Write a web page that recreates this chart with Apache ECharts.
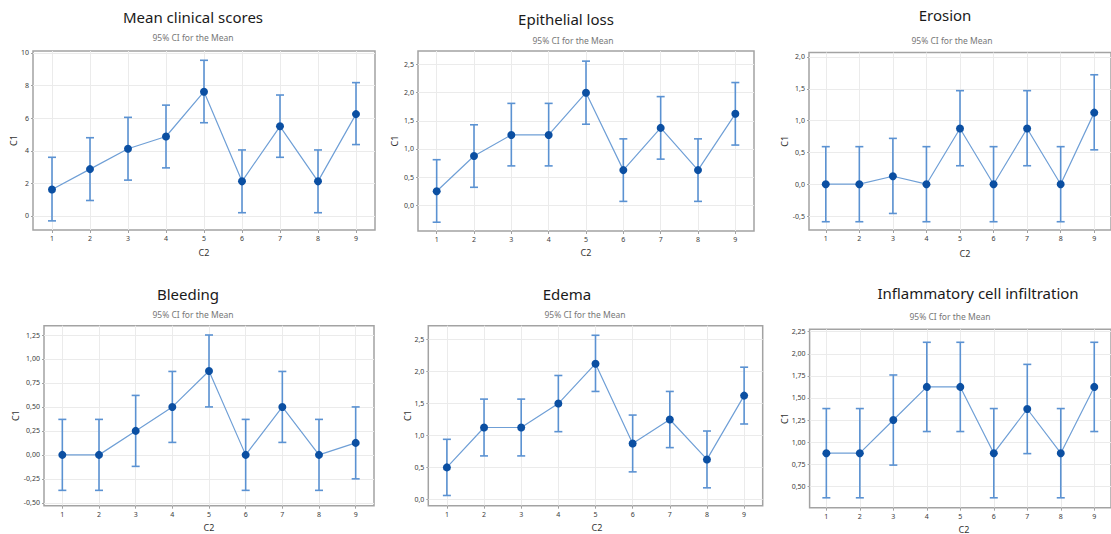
<!DOCTYPE html>
<html>
<head>
<meta charset="utf-8">
<script src="https://cdn.jsdelivr.net/npm/echarts@6/dist/echarts.min.js"></script>
<style>
html,body{margin:0;padding:0;background:#fff;}
#c{width:1111px;height:534px;}
</style>
</head>
<body>
<div id="c"></div>
<script>
// ---------- DATA ----------
const categories = [1, 2, 3, 4, 5, 6, 7, 8, 9];

const titles = ["Mean clinical scores", "Epithelial loss", "Erosion", "Bleeding", "Edema", "Inflammatory cell infiltration"];
const subtitleText = "95% CI for the Mean";
const xAxisName = "C2";
const yAxisName = "C1";

// Mean clinical scores
const clinicalMean  = [1.625, 2.875, 4.125, 4.875, 7.625, 2.125, 5.5, 2.125, 6.25];
const clinicalLower = [-0.3, 0.95, 2.2, 2.95, 5.72, 0.2, 3.6, 0.2, 4.38];
const clinicalUpper = [3.6, 4.8, 6.05, 6.8, 9.55, 4.05, 7.42, 4.05, 8.18];
const clinicalTicks = [0, 2, 4, 6, 8, 10];
const clinicalTickLabels = ["0", "2", "4", "6", "8", "10"];

// Epithelial loss
const epithelialMean  = [0.25, 0.875, 1.25, 1.25, 2.0, 0.625, 1.375, 0.625, 1.625];
const epithelialLower = [-0.3, 0.32, 0.7, 0.7, 1.44, 0.07, 0.82, 0.07, 1.07];
const epithelialUpper = [0.81, 1.43, 1.81, 1.81, 2.56, 1.18, 1.93, 1.18, 2.18];
const epithelialTicks = [0, 0.5, 1, 1.5, 2, 2.5];
const epithelialTickLabels = ["0,0", "0,5", "1,0", "1,5", "2,0", "2,5"];

// Erosion
const erosionMean  = [0, 0, 0.125, 0, 0.875, 0, 0.875, 0, 1.125];
const erosionLower = [-0.59, -0.59, -0.46, -0.59, 0.29, -0.59, 0.29, -0.59, 0.54];
const erosionUpper = [0.59, 0.59, 0.72, 0.59, 1.47, 0.59, 1.47, 0.59, 1.72];
const erosionTicks = [-0.5, 0, 0.5, 1, 1.5, 2];
const erosionTickLabels = ["-0,5", "0,0", "0,5", "1,0", "1,5", "2,0"];

// Bleeding
const bleedingMean  = [0, 0, 0.25, 0.5, 0.875, 0, 0.5, 0, 0.125];
const bleedingLower = [-0.37, -0.37, -0.12, 0.13, 0.5, -0.37, 0.13, -0.37, -0.25];
const bleedingUpper = [0.37, 0.37, 0.62, 0.87, 1.25, 0.37, 0.87, 0.37, 0.5];
const bleedingTicks = [-0.5, -0.25, 0, 0.25, 0.5, 0.75, 1, 1.25];
const bleedingTickLabels = ["-0,50", "-0,25", "0,00", "0,25", "0,50", "0,75", "1,00", "1,25"];

// Edema
const edemaMean  = [0.5, 1.125, 1.125, 1.5, 2.125, 0.875, 1.25, 0.625, 1.625];
const edemaLower = [0.06, 0.68, 0.68, 1.06, 1.69, 0.43, 0.81, 0.18, 1.18];
const edemaUpper = [0.94, 1.57, 1.57, 1.94, 2.57, 1.32, 1.69, 1.07, 2.07];
const edemaTicks = [0, 0.5, 1, 1.5, 2, 2.5];
const edemaTickLabels = ["0,0", "0,5", "1,0", "1,5", "2,0", "2,5"];

// Inflammatory cell infiltration
const inflamMean  = [0.875, 0.875, 1.25, 1.625, 1.625, 0.875, 1.375, 0.875, 1.625];
const inflamLower = [0.37, 0.37, 0.74, 1.12, 1.12, 0.37, 0.87, 0.37, 1.12];
const inflamUpper = [1.38, 1.38, 1.76, 2.13, 2.13, 1.38, 1.88, 1.38, 2.13];
const inflamTicks = [0.5, 0.75, 1, 1.25, 1.5, 1.75, 2, 2.25];
const inflamTickLabels = ["0,50", "0,75", "1,00", "1,25", "1,50", "1,75", "2,00", "2,25"];

// ---------- LAYOUT (positions / styles only) ----------
const panelLayout = [
  {left: 33,  top: 51,  width: 342, height: 179, ymin: -0.86, ymax: 10.12, tx: 193, ty: 17, sx: 193, sy: 37, c2x: 204, c2y: 252, c1x: 13},
  {left: 418, top: 51,  width: 336, height: 180, ymin: -0.456, ymax: 2.74, tx: 566, ty: 19, sx: 573, sy: 40, c2x: 586, c2y: 252, c1x: 394},
  {left: 809, top: 52.5, width: 312, height: 177.5, ymin: -0.72, ymax: 2.07, tx: 945, ty: 15, sx: 952, sy: 40, c2x: 965, c2y: 253, c1x: 784},
  {left: 44,  top: 325.7, width: 330, height: 180, ymin: -0.53, ymax: 1.347, tx: 188, ty: 294, sx: 193, sy: 314, c2x: 209, c2y: 527, c1x: 15},
  {left: 428.3, top: 325.7, width: 334.4, height: 180, ymin: -0.1, ymax: 2.72, tx: 567, ty: 294, sx: 585, sy: 314, c2x: 597, c2y: 527, c1x: 407},
  {left: 809.6, top: 329.3, width: 307.8, height: 178.4, ymin: 0.258, ymax: 2.277, tx: 978, ty: 293, sx: 950, sy: 316, c2x: 964, c2y: 529, c1x: 784}
];

const panelData = [
  {mean: clinicalMean, lower: clinicalLower, upper: clinicalUpper, ticks: clinicalTicks, labels: clinicalTickLabels},
  {mean: epithelialMean, lower: epithelialLower, upper: epithelialUpper, ticks: epithelialTicks, labels: epithelialTickLabels},
  {mean: erosionMean, lower: erosionLower, upper: erosionUpper, ticks: erosionTicks, labels: erosionTickLabels},
  {mean: bleedingMean, lower: bleedingLower, upper: bleedingUpper, ticks: bleedingTicks, labels: bleedingTickLabels},
  {mean: edemaMean, lower: edemaLower, upper: edemaUpper, ticks: edemaTicks, labels: edemaTickLabels},
  {mean: inflamMean, lower: inflamLower, upper: inflamUpper, ticks: inflamTicks, labels: inflamTickLabels}
];

const FONT = "Noto Sans";
const LINE_COLOR = "#6f9fd6";
const BAR_COLOR = "#5b92d2";
const DOT_COLOR = "#0b4fa2";
const FRAME_COLOR = "#a3a3a3";
const GRID_COLOR = "#ebebeb";
const LABEL_COLOR = "#3a3a3a";

const grids = [], xAxes = [], yAxes = [], series = [], graphics = [];

panelLayout.forEach((L, i) => {
  const D = panelData[i];
  grids.push({
    left: L.left, top: L.top, width: L.width, height: L.height,
    show: true, borderColor: FRAME_COLOR, borderWidth: 1.5, backgroundColor: "#fff",
    containLabel: false
  });
  xAxes.push({
    type: "value", gridIndex: i, min: 0.5, max: 9.5, position: "bottom",
    axisLine: {show: false, onZero: false},
    axisTick: {show: true, length: 3, inside: false, customValues: categories, lineStyle: {color: FRAME_COLOR}},
    axisLabel: {customValues: categories, fontSize: 7, color: LABEL_COLOR, fontFamily: FONT, margin: 5},
    splitLine: {show: true, lineStyle: {color: GRID_COLOR, width: 1}}
  });
  yAxes.push({
    type: "value", gridIndex: i, min: L.ymin, max: L.ymax, position: "left",
    axisLine: {show: false, onZero: false},
    axisTick: {show: true, length: 2, customValues: D.ticks, lineStyle: {color: FRAME_COLOR}},
    axisLabel: {
      customValues: D.ticks, fontSize: 7, color: LABEL_COLOR, fontFamily: FONT, margin: 4,
      formatter: (v) => {
        const k = D.ticks.findIndex(t => Math.abs(t - v) < 1e-9);
        return k >= 0 ? D.labels[k] : "";
      }
    },
    splitLine: {show: true, lineStyle: {color: GRID_COLOR, width: 1}}
  });
  series.push({
    type: "custom", xAxisIndex: i, yAxisIndex: i, z: 2,
    data: categories.map((c, k) => [c, D.lower[k], D.upper[k]]),
    encode: {x: 0, y: [1, 2]},
    renderItem: (params, api) => {
      const x = api.value(0);
      const lo = api.coord([x, api.value(1)]);
      const hi = api.coord([x, api.value(2)]);
      const cw = 4;
      const st = {stroke: BAR_COLOR, lineWidth: 1.6};
      return {type: "group", children: [
        {type: "line", shape: {x1: lo[0], y1: lo[1], x2: hi[0], y2: hi[1]}, style: st},
        {type: "line", shape: {x1: lo[0] - cw, y1: lo[1], x2: lo[0] + cw, y2: lo[1]}, style: st},
        {type: "line", shape: {x1: hi[0] - cw, y1: hi[1], x2: hi[0] + cw, y2: hi[1]}, style: st}
      ]};
    }
  });
  series.push({
    type: "line", xAxisIndex: i, yAxisIndex: i, z: 3,
    data: categories.map((c, k) => [c, D.mean[k]]),
    symbol: "circle", symbolSize: 8, showAllSymbol: true,
    itemStyle: {color: DOT_COLOR},
    lineStyle: {color: LINE_COLOR, width: 1.2},
    animation: false
  });
  graphics.push({type: "text", x: L.tx, y: L.ty, style: {text: titles[i], font: "15px '" + FONT + "'", fill: "#1a1a1a", textAlign: "center", textVerticalAlign: "middle"}});
  graphics.push({type: "text", x: L.sx, y: L.sy, style: {text: subtitleText, font: "8.5px '" + FONT + "'", fill: "#777", textAlign: "center", textVerticalAlign: "middle"}});
  graphics.push({type: "text", x: L.c2x, y: L.c2y, style: {text: xAxisName, font: "9px '" + FONT + "'", fill: "#333", textAlign: "center", textVerticalAlign: "middle"}});
  graphics.push({type: "text", x: L.c1x, y: L.top + L.height / 2, rotation: Math.PI / 2, style: {text: yAxisName, font: "9px '" + FONT + "'", fill: "#333", textAlign: "center", textVerticalAlign: "middle"}});
});

const chart = echarts.init(document.getElementById("c"), null, {renderer: "svg", width: 1111, height: 534});
chart.setOption({
  animation: false,
  backgroundColor: "#fff",
  grid: grids,
  xAxis: xAxes,
  yAxis: yAxes,
  series: series,
  graphic: graphics
});
</script>
</body>
</html>
